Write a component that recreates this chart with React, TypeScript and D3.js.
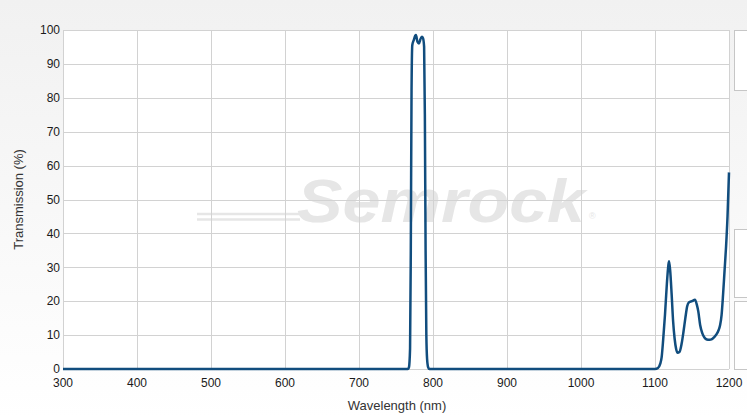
import * as d3 from "d3";
import {useEffect, useRef} from "react";

// spectrum samples
const wavelengths = [300, 760, 766, 767.5, 769, 770, 771, 772, 774, 776, 777, 779, 781, 783, 785, 786.5, 788, 789, 790, 791, 792, 793.5, 795,
    1100, 1104, 1107, 1109, 1111, 1113.5, 1116, 1118, 1119, 1120.5, 1122.5, 1124.5, 1126.5, 1128.5, 1130.5, 1133, 1136, 1138.5, 1141, 1143.5, 1146, 1150, 1154, 1156.5, 1158.5, 1161, 1164, 1167, 1170, 1173.5, 1177, 1180, 1183, 1186, 1188, 1190, 1192, 1194, 1196, 1198, 1200];
const transmission = [0, 0, 0, 0.5, 6, 35, 82, 95.5, 97, 98.3, 98.5, 96.5, 96, 97.3, 98, 97.6, 95, 75, 35, 10, 3, 0.5, 0,
    0, 0.3, 1.5, 3.5, 8.5, 16, 25, 30.5, 31.8, 29, 22, 14, 9, 6, 4.8, 5, 7.5, 11, 15, 18.5, 19.7, 20, 20.4, 19, 17, 13, 10.5, 9.2, 8.7, 8.6, 8.8, 9.4, 10.2, 11.5, 13, 16, 22, 29, 36, 45, 58];

const xTicks = [300, 400, 500, 600, 700, 800, 900, 1000, 1100, 1200];
const yTicks = [0, 10, 20, 30, 40, 50, 60, 70, 80, 90, 100];

const W = 747, H = 418;
const margin = {top: 30, right: 18, bottom: 49, left: 63};

export default function App() {
    const ref = useRef<SVGSVGElement>(null);

    useEffect(() => {
        const width = W - margin.left - margin.right;
        const height = H - margin.top - margin.bottom;
        const svg = d3.select(ref.current).html("");
        const font = "'Liberation Sans', Arial, sans-serif";

        const defs = svg.append("defs");
        const bg = defs.append("linearGradient").attr("id", "bg").attr("x1", 0).attr("y1", 0).attr("x2", 0).attr("y2", 1);
        bg.append("stop").attr("offset", "0%").attr("stop-color", "#f1f1f1");
        bg.append("stop").attr("offset", "100%").attr("stop-color", "#ffffff");
        const rb = defs.append("linearGradient").attr("id", "rainbow");
        ["#dcdcf4", "#e0f0f8", "#eaf6e0", "#f8f4dc", "#f8e4dc", "#f4dcdc"].forEach((c, i, a) =>
            rb.append("stop").attr("offset", `${(i / (a.length - 1)) * 100}%`).attr("stop-color", c));

        svg.append("rect").attr("width", W).attr("height", H).attr("fill", "url(#bg)");

        // side panels peeking in on the right
        [[30, 60], [229, 68], [301, 68]].forEach(([y, h]) => {
            svg.append("rect").attr("x", 734.5).attr("y", y + 0.5).attr("width", 20).attr("height", h)
                .attr("fill", "#fff").attr("stroke", "#c6c6c6");
        });

        const g = svg.append("g").attr("transform", `translate(${margin.left},${margin.top})`);
        g.append("rect").attr("width", width).attr("height", height).attr("fill", "#fff");

        const x = d3.scaleLinear().domain([300, 1200]).range([0, width]);
        const y = d3.scaleLinear().domain([0, 100]).range([height, 0]);

        // watermark
        const wm = g.append("g").attr("transform", `translate(${-margin.left},${-margin.top})`);
        wm.append("line").attr("x1", 337).attr("x2", 557).attr("y1", 181).attr("y2", 181)
            .attr("stroke", "url(#rainbow)").attr("stroke-width", 3);
        wm.append("path").attr("d", "M197,214 L305,214 M197,219.5 L300,219.5")
            .attr("stroke", "#e6e6e6").attr("stroke-width", 2.5).attr("fill", "none");
        wm.append("text").attr("x", 297).attr("y", 222).attr("textLength", 288)
            .attr("lengthAdjust", "spacingAndGlyphs")
            .attr("font-family", font).attr("font-size", 62).attr("font-weight", "bold")
            .attr("font-style", "italic").attr("fill", "#e6e6e6").text("Semrock");
        wm.append("text").attr("x", 589).attr("y", 219).attr("font-family", font).attr("font-size", 9)
            .attr("fill", "#e6e6e6").text("®");

        // grid
        g.append("g").selectAll("line").data(yTicks).join("line")
            .attr("x1", 0).attr("x2", width)
            .attr("y1", d => Math.round(y(d)) + 0.5).attr("y2", d => Math.round(y(d)) + 0.5)
            .attr("stroke", "#d2d2d2");
        g.append("g").selectAll("line").data(xTicks).join("line")
            .attr("y1", 0).attr("y2", height)
            .attr("x1", d => Math.round(x(d)) + 0.5).attr("x2", d => Math.round(x(d)) + 0.5)
            .attr("stroke", "#d2d2d2");

        // tick labels
        g.append("g").selectAll("text").data(yTicks).join("text")
            .attr("x", -3).attr("y", d => y(d)).attr("dy", "0.35em")
            .attr("text-anchor", "end").attr("font-family", font).attr("font-size", 12)
            .attr("fill", "#1a1a1a").text(d => d);
        g.append("g").selectAll("text").data(xTicks).join("text")
            .attr("x", d => x(d)).attr("y", height + 18)
            .attr("text-anchor", "middle").attr("font-family", font).attr("font-size", 12)
            .attr("fill", "#1a1a1a").text(d => d);

        // axis titles
        g.append("text").attr("transform", `translate(${18 - margin.left},${height / 2}) rotate(-90)`)
            .attr("dy", "0.35em").attr("text-anchor", "middle").attr("font-family", font)
            .attr("font-size", 13).attr("fill", "#333").text("Transmission (%)");
        g.append("text").attr("x", width / 2 + 1).attr("y", height + 41)
            .attr("text-anchor", "middle").attr("font-family", font)
            .attr("font-size", 13).attr("fill", "#333").text("Wavelength (nm)");

        // curve
        const pts = wavelengths.map((w, i) => [w, transmission[i]] as [number, number]);
        const line = d3.line<[number, number]>()
            .x(d => x(d[0])).y(d => y(d[1]))
            .curve(d3.curveMonotoneX);
        g.append("path").datum(pts).attr("d", line)
            .attr("fill", "none").attr("stroke", "#114d7e").attr("stroke-width", 2.5)
            .attr("stroke-linejoin", "round");
    }, []);

    return (
        <svg ref={ref} width={W} height={H}
             style={{position: "absolute", left: 0, top: 0, display: "block"}}/>
    );
}
